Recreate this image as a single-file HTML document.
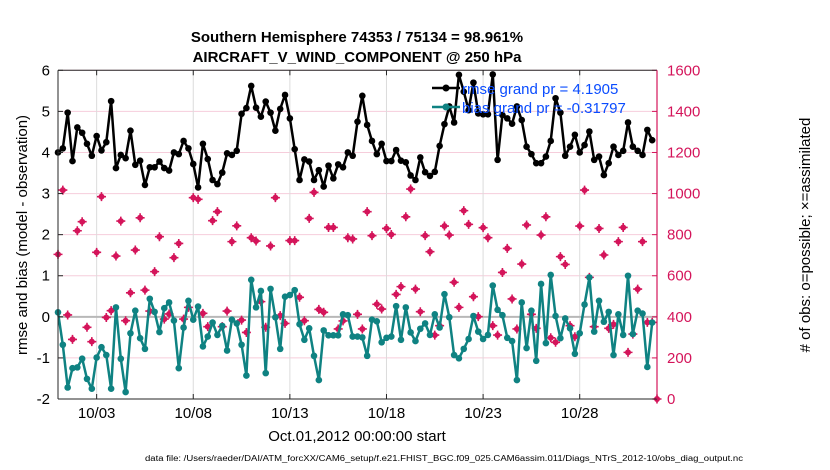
<!DOCTYPE html>
<html><head><meta charset="utf-8">
<style>
html,body{margin:0;padding:0;background:#fff;}
svg{display:block;font-family:"Liberation Sans",Arial,sans-serif;}
</style></head>
<body>
<svg id="chart" width="830" height="470" viewBox="0 0 830 470">
  <text x="357" y="42" text-anchor="middle" font-size="15" font-weight="bold">Southern Hemisphere 74353 / 75134 = 98.961%</text>
  <text x="357" y="62" text-anchor="middle" font-size="15" font-weight="bold">AIRCRAFT_V_WIND_COMPONENT @ 250 hPa</text>
  <g id="grid"></g>
  <g id="series"></g>
  <g id="axes"></g>
  <text transform="translate(27,235) rotate(-90)" text-anchor="middle" font-size="15">rmse and bias (model - observation)</text>
  <text transform="translate(810,235) rotate(-90)" text-anchor="middle" font-size="15"># of obs: o=possible; ×=assimilated</text>
  <text x="357" y="441" text-anchor="middle" font-size="15">Oct.01,2012 00:00:00 start</text>
  <text x="145" y="461" font-size="8" textLength="598" lengthAdjust="spacingAndGlyphs">data file: /Users/raeder/DAI/ATM_forcXX/CAM6_setup/f.e21.FHIST_BGC.f09_025.CAM6assim.011/Diags_NTrS_2012-10/obs_diag_output.nc</text>
  <g id="legend">
    <line x1="432" y1="88" x2="460" y2="88" stroke="#000" stroke-width="2.5"/>
    <circle cx="446" cy="88" r="3.5" fill="#000"/>
    <text x="462" y="94" font-size="15" fill="#0a4cff">rmse grand pr = 4.1905</text>
    <line x1="432" y1="107" x2="460" y2="107" stroke="#0f8282" stroke-width="2.5"/>
    <circle cx="446" cy="107" r="3.5" fill="#0f8282"/>
    <text x="462" y="113" font-size="15" fill="#0a4cff">bias grand pr = -0.31797</text>
  </g>
</svg>
<script>
const rmse=[4.00,4.10,4.97,3.79,4.61,4.48,4.21,3.92,4.40,4.05,4.25,5.25,3.62,3.94,3.86,4.53,3.70,3.80,3.21,3.64,3.64,3.78,3.62,3.56,4.00,3.96,4.28,4.10,3.72,3.15,4.21,3.84,3.33,3.23,3.51,3.98,3.94,4.04,4.94,5.08,5.62,5.09,4.87,5.24,4.97,4.53,5.06,5.40,4.83,4.08,3.33,3.83,3.78,3.33,3.57,3.17,3.68,3.37,3.71,3.64,4.00,3.92,4.75,5.38,4.67,4.28,3.96,4.21,3.79,3.79,4.06,3.80,3.76,3.44,3.33,3.88,3.52,3.43,3.53,4.16,4.69,5.12,4.73,5.89,5.48,5.03,5.70,4.95,4.93,4.93,5.90,3.82,4.91,4.83,4.70,5.12,4.79,4.14,3.96,3.74,3.74,3.90,4.28,5.32,4.97,3.92,4.14,4.43,4.00,4.18,4.51,3.82,3.90,3.45,3.74,4.14,3.94,4.04,4.73,4.14,4.04,3.94,4.55,4.30];
const bias=[0.11,-0.68,-1.72,-1.25,-1.23,-1.02,-1.51,-1.75,-0.99,-0.74,-0.93,-1.75,0.23,-1.02,-1.83,-0.40,0.15,-0.52,-0.78,0.44,0.12,-0.37,0.21,0.35,-0.09,-1.25,-0.26,0.39,-0.07,0.25,-0.72,-0.48,-0.14,-0.44,-0.22,-0.82,-0.07,-0.16,-0.68,-1.43,0.90,0.23,0.63,-1.37,0.68,-0.01,-0.78,0.49,0.53,0.65,-0.18,-0.56,-0.28,-0.95,-1.54,-0.33,-0.45,-0.45,-0.45,0.06,0.04,-0.48,-0.48,-0.50,-0.95,-0.07,-0.11,-0.62,-0.51,-0.48,0.26,-0.56,0.23,-0.38,-0.59,-0.29,-0.16,-0.44,0.06,-0.26,0.55,-0.01,-0.93,-1.01,-0.78,-0.54,0.02,-0.36,-0.54,-0.44,0.76,0.17,0.04,-0.51,-0.59,-1.54,0.35,-0.76,0.15,-1.07,0.80,-0.64,1.02,0.02,-0.52,-0.04,-0.28,-0.90,-0.40,0.30,0.96,-0.36,0.39,-0.12,0.12,-0.93,0.06,-0.44,1.00,-0.42,0.15,0.08,-1.22,-0.14];
const counts=[704,1017,409,290,819,863,349,279,714,985,397,430,696,866,381,517,725,882,530,428,620,790,389,414,688,757,389,446,980,972,417,352,868,912,352,428,766,843,384,324,785,769,474,349,745,980,406,368,771,771,495,381,879,1006,436,422,835,835,341,380,785,779,412,341,912,795,461,438,830,801,509,547,887,1022,535,425,795,717,311,357,842,798,568,446,917,850,498,401,834,785,357,311,616,733,487,341,657,847,412,344,798,887,298,276,693,655,357,303,842,1017,592,352,830,701,344,363,766,835,227,316,535,766,373,373,0];
const leftTicks=[-2,-1,0,1,2,3,4,5,6];
const rightTicks=[0,200,400,600,800,1000,1200,1400,1600];
const xTickDays=[2,7,12,17,22,27];
const xTickLabels=["10/03","10/08","10/13","10/18","10/23","10/28"];
const stepDays=0.25;

const X0=58,X1=657,Y0=399,Y1=70.3;
const NS='http://www.w3.org/2000/svg';
const xs=d=>X0+(d/31)*(X1-X0);
const yl=v=>Y0-(v+2)/8*(Y0-Y1);
const yr=c=>Y0-c/1600*(Y0-Y1);
function mk(tag,attrs,parent){const e=document.createElementNS(NS,tag);for(const k in attrs)e.setAttribute(k,attrs[k]);parent.appendChild(e);return e;}
const grid=document.getElementById('grid'),ser=document.getElementById('series'),axes=document.getElementById('axes');

leftTicks.forEach(v=>{
  const g=mk('line',{x1:X0,x2:X1,y1:yl(v),y2:yl(v),stroke:'#f6cddb','stroke-width':1},grid);
  
  
  const t=mk('text',{x:X0-8,y:yl(v)+5,'text-anchor':'end','font-size':15},axes);t.textContent=v;
  
  
  mk('line',{x1:X0,x2:X0+5,y1:yl(v),y2:yl(v),stroke:'#262626'},axes);
});
rightTicks.forEach(c=>{
  const t=mk('text',{x:X1+10,y:yr(c)+5,'font-size':15,fill:'#d4145a'},axes);t.textContent=c;
  
  
  mk('line',{x1:X1-5,x2:X1,y1:yr(c),y2:yr(c),stroke:'#d4145a'},axes);
});
xTickDays.forEach((d,i)=>{
  const g=mk('line',{x1:xs(d),x2:xs(d),y1:Y1,y2:Y0,stroke:'#dcdcdc','stroke-width':1},grid);
  
  
  mk('line',{x1:xs(d),x2:xs(d),y1:Y0,y2:Y0-5,stroke:'#262626'},axes);
  mk('line',{x1:xs(d),x2:xs(d),y1:Y1,y2:Y1+5,stroke:'#262626'},axes);
  const t=mk('text',{x:xs(d),y:418,'text-anchor':'middle','font-size':15},axes);t.textContent=xTickLabels[i];
  
  
});
const zl=mk('line',{x1:X0,x2:X1,y1:yl(0),y2:yl(0),stroke:'#b8b8b8','stroke-width':2},grid);



counts.forEach((c,i)=>{
  const x=xs(i*stepDays),y=yr(c);
  const g=mk('g',{},ser);
  
  
  mk('circle',{cx:x,cy:y,r:3,fill:'#d4145a'},g);
  mk('path',{d:`M${x-4.5},${y}H${x+4.5}M${x},${y-4.5}V${y+4.5}`,stroke:'#d4145a','stroke-width':1.6},g);
});
function series(arr,color,name){
  const pts=arr.map((v,i)=>xs(i*stepDays).toFixed(1)+','+yl(v).toFixed(1)).join(' ');
  const pl=mk('polyline',{points:pts,fill:'none',stroke:color,'stroke-width':2.5,'stroke-linejoin':'round'},ser);
  
  
  arr.forEach((v,i)=>{
    const c=mk('circle',{cx:xs(i*stepDays),cy:yl(v),r:3.3,fill:color},ser);
    
    
  });
}
series(bias,'#0f8282','bias');
series(rmse,'#000000','rmse');

mk('line',{x1:X0,x2:X0,y1:Y1,y2:Y0,stroke:'#262626'},axes);
mk('line',{x1:X0,x2:X1,y1:Y0,y2:Y0,stroke:'#262626'},axes);
mk('line',{x1:X0,x2:X1,y1:Y1,y2:Y1,stroke:'#262626'},axes);
mk('line',{x1:X1,x2:X1,y1:Y1,y2:Y0,stroke:'#d4145a','stroke-width':1.2},axes);
</script>
</body></html>
